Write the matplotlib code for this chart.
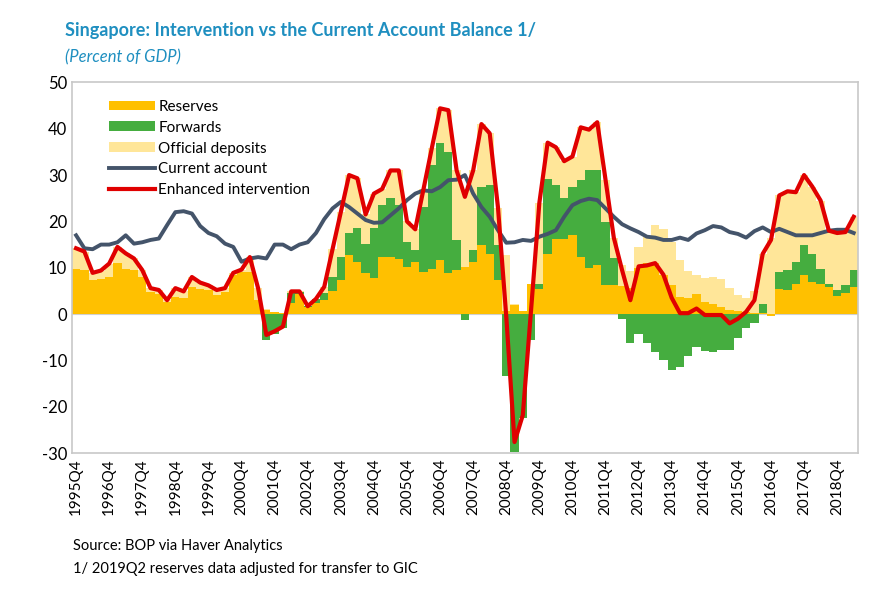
import matplotlib.pyplot as plt

plt.rcParams['font.family'] = ['Lato', 'DejaVu Sans']
plt.rcParams['axes.unicode_minus'] = False

# quarterly, 1995Q4 .. 2019Q2, percent of GDP
quarters = [f"{1995 + (i + 3) // 4}Q{(i + 3) % 4 + 1}" for i in range(95)]

reserves = [9.8, 9.6, 7.3, 7.5, 7.9, 11, 9.8, 9.6, 8, 4.8, 4.4, 2.6, 3.7, 3.4, 5.9, 5.5,
            5.3, 4.1, 4.8, 8.4, 9.1, 9.1, 3, 0.9, 0.5, 0.2, 2.5, 4.4, 1.5, 2.5, 3, 5,
            7.3, 12.7, 11.3, 8.8, 7.7, 12.3, 12.3, 11.9, 10.2, 11.3, 9.1, 9.8, 11.6, 8.8, 9.5, 10.2,
            11.3, 14.9, 13, 7.3, 0.7, 2, 0.7, 6.5, 5.5, 13, 16.3, 16.3, 17, 12.3, 10, 10.5,
            6.3, 6.3, 6, 5.6, 10, 11, 11, 8.4, 6.3, 3.7, 3.4, 4.4, 2.6, 2.2, 1.5, 0.9,
            0.7, 0.5, 0.2, 0.2, -0.5, 5.5, 5.3, 6.6, 8.4, 7, 6.6, 5.8, 3.8, 4.6, 5.8]
forwards = [0] * 23 + [-5.6, -4.2, -3, 2, 0.3, 0.2, 0.8, 1.5, 3,
            5.1, 4.7, 7.2, 6.4, 10.8, 11.2, 12.7, 11.6, 5.4, 2.5, 14, 22.3, 25.4, 26.2, 6.5, -1.3,
            2.5, 12.6, 14.8, 7.6, -13.3, -29.7, -22.5, -5.6, 1, 16.1, 11.5, 8.7, 10.5, 16.6, 21.2, 20.5,
            13.6, 5.7, -1, -6.3, -4.2, -6.3, -8.2, -9.9, -12.1, -11.5, -9, -7.2, -7.9, -8.2, -7.7, -7.7,
            -5.1, -3, -1.9, 2, 0, 3.6, 4.3, 4.7, 6.5, 6, 3.2, 0.6, 1.5, 1.7, 3.8]
deposits = [4.4, 3.9, 1.6, 1.9, 3, 3.5, 3.3, 2.4, 1.5, 0.8, 0.8, 0.4, 1.9, 1.5, 2.1, 1.3,
            0.9, 1.1, 0.8, 0.5, 0.5, 3.2, 2.6, 0.2, 0, 0.1, 0.4, 0.2, 0, 0, 1.4, 6,
            9.6, 12.6, 10.8, 6.3, 7.5, 3.5, 6, 7.5, 4.4, 4.5, 3.9, 3.7, 7.4, 9, 15, 16.4,
            17.2, 13.5, 11.2, 8.1, 12.1, 0.1, 0, 0, 17.5, 7.9, 8.2, 8, 6.5, 11.4, 8.6, 10.4,
            9.1, 4.5, 4.5, 3.7, 4.5, 5.8, 8.2, 10, 9.3, 8, 5.8, 4, 5.1, 5.8, 6, 4.8,
            3.4, 3, 4.7, 10.8, 16.5, 16.5, 16.9, 15, 15.1, 14.5, 14.7, 11.6, 12.2, 11.4, 11.4]
current_account = [17, 14.2, 14, 15, 15, 15.5, 17, 15.2, 15.5, 16, 16.3, 19.2, 22, 22.2, 21.7, 19,
                   17.5, 16.8, 15.2, 14.5, 11.3, 12, 12.3, 12, 15, 15, 14, 15, 15.5, 17.5, 20.5, 22.8,
                   24.2, 23.1, 21.7, 20.3, 19.7, 19.8, 21.3, 22.8, 24.6, 26, 26.7, 26.5, 27.4, 28.9, 29, 30,
                   26, 23.1, 21, 18.1, 15.4, 15.5, 16, 15.8, 16.7, 17.3, 18.1, 21, 23.5, 24.4, 24.9, 24.6,
                   22.8, 21, 19.4, 18.5, 17.7, 16.7, 16.5, 16, 16, 16.5, 16, 17.4, 18.1, 19, 18.7, 17.7,
                   17.3, 16.5, 17.9, 18.7, 17.7, 18.4, 17.7, 17, 17, 17, 17.5, 18, 18.2, 18.2, 17.5]
enhanced = [14.2, 13.5, 8.9, 9.4, 10.9, 14.5, 13.1, 12, 9.5, 5.6, 5.2, 3, 5.6, 4.9, 8, 6.8,
            6.2, 5.2, 5.6, 8.9, 9.6, 12.3, 5.6, -4.5, -3.7, -2.7, 4.9, 4.9, 1.7, 3.3, 5.9, 14,
            22, 30, 29.3, 21.5, 26, 27, 31, 31, 20, 18.3, 27, 35.8, 44.4, 44, 31, 25.3,
            31, 41, 39, 23, -0.5, -27.6, -21.8, 0.9, 24, 37, 36, 33, 34, 40.3, 39.8, 41.4,
            29, 16.5, 9.5, 3, 10.3, 10.5, 11, 8.5, 3.5, 0.2, 0.2, 1.2, -0.2, -0.2, -0.2, -2,
            -1, 0.5, 3, 13, 16, 25.6, 26.5, 26.3, 30, 27.5, 24.5, 18, 17.5, 17.7, 21]

x = list(range(len(quarters)))
res_pos = [max(r, 0) for r in reserves]
fwd_pos = [max(f, 0) for f in forwards]
fwd_neg = [min(f, 0) for f in forwards]
base_dep = [a + b for a, b in zip(res_pos, fwd_pos)]

fig = plt.figure(figsize=(8.84, 5.97), dpi=100)
ax = fig.add_axes([0.0814, 0.241, 0.889, 0.621])

h1 = ax.bar(x, res_pos, width=1.0, color='#FFC000', label='Reserves')
ax.bar(x, [min(r, 0) for r in reserves], width=1.0, color='#FFC000')
h2 = ax.bar(x, fwd_pos, width=1.0, bottom=res_pos, color='#45AD3F', label='Forwards')
ax.bar(x, fwd_neg, width=1.0, color='#45AD3F')
h3 = ax.bar(x, deposits, width=1.0, bottom=base_dep, color='#FFE699', label='Official deposits')
h4, = ax.plot(x, current_account, color='#44546A', lw=2.8, label='Current account')
h5, = ax.plot(x, enhanced, color='#E00000', lw=3.0, label='Enhanced intervention')
ax.axhline(0, color='#D0D0D0', lw=1.5, zorder=0.5)

ax.set_xlim(-0.5, len(x) - 0.5)
ax.set_ylim(-30, 50)
ax.set_yticks(range(-30, 51, 10))
ax.set_xticks(x[::4])
ax.set_xticklabels(quarters[::4], rotation=90)
ax.tick_params(axis='both', length=0, labelsize=11)
ax.tick_params(axis='y', labelsize=12)
for s in ax.spines.values():
    s.set_color('#C8C8C8')
    s.set_linewidth(1.2)

ax.legend(handles=[h1, h2, h3, h4, h5], loc='upper left', bbox_to_anchor=(0.03, 0.99),
          frameon=False, fontsize=11, handlelength=3.0, handleheight=0.6,
          handletextpad=0.2, labelspacing=0.45)

fig.text(0.074, 0.94, 'Singapore: Intervention vs the Current Account Balance 1/', fontsize=13,
         fontweight='bold', color='#1F8FC0')
fig.text(0.074, 0.895, '(Percent of GDP)', fontsize=12, style='italic', color='#1F8FC0')
fig.text(0.083, 0.078, 'Source: BOP via Haver Analytics', fontsize=10.5)
fig.text(0.083, 0.040, '1/ 2019Q2 reserves data adjusted for transfer to GIC', fontsize=10.5)

fig.savefig('out.png', dpi=100)
